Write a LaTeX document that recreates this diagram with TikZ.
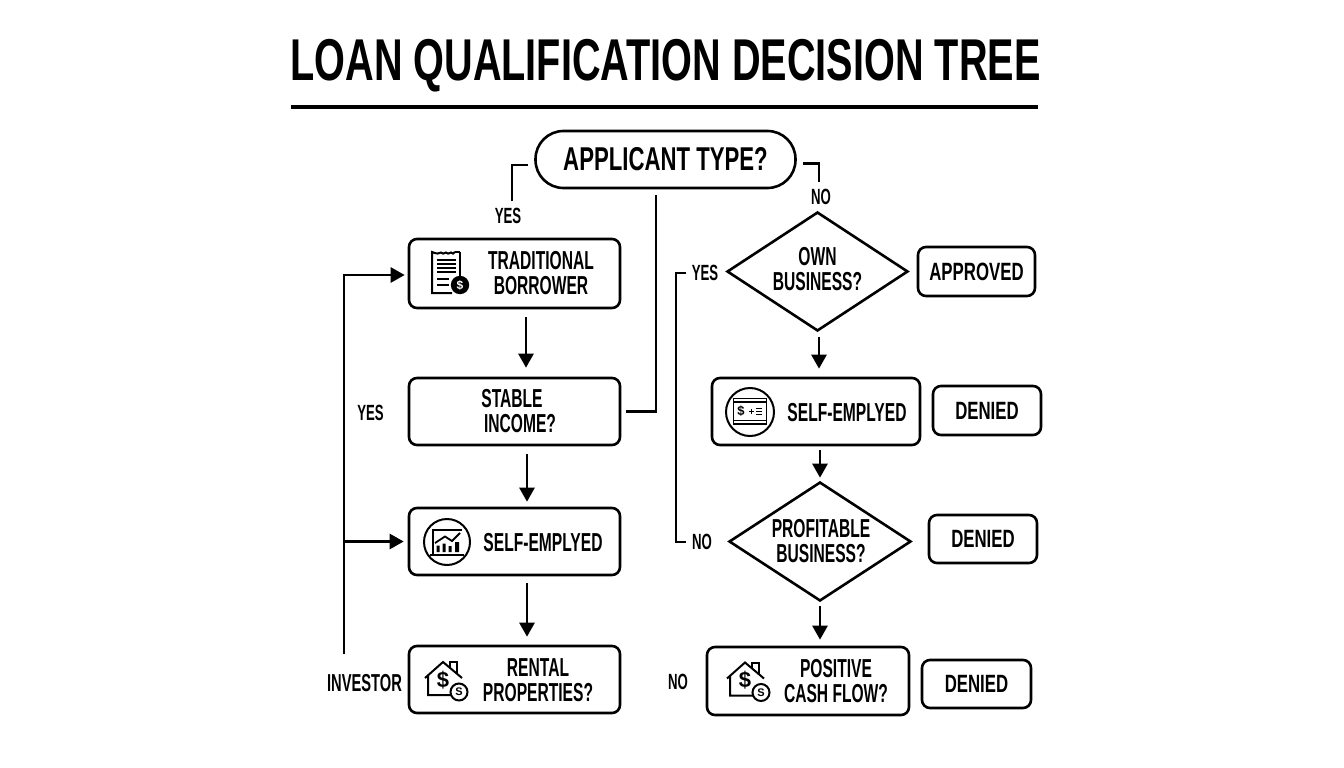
\documentclass[tikz,border=0pt]{standalone}
\usepackage{fontspec}
\usetikzlibrary{arrows.meta,shapes.geometric}
\newfontfamily\cond[FakeStretch=0.6]{Liberation Sans}
\newfontfamily\titlecond[FakeStretch=0.672]{Liberation Sans}
\newcommand{\lines}[3]{\hspace*{#1}\raisebox{-#2}[0pt][0pt]{\begin{tabular}{@{}c@{}}#3\end{tabular}}}
\tikzset{
  x=1pt,y=-1pt,
  lw/.style={line width=2.6pt},
  txt/.style={font=\cond\bfseries\fontsize{26}{23}\selectfont,text=black,inner sep=0pt},
  box/.style={txt,draw=black,lw,rounded corners=8pt,minimum width=#1,fill=white},
  box/.default=211pt,
  outcome/.style={box=#1,font=\titlecond\bfseries\fontsize{25}{25}\selectfont},
  dec/.style={txt,draw=black,lw,diamond,aspect=1.52,inner sep=0pt,fill=white},
  lab/.style={font=\cond\bfseries\fontsize{22}{22}\selectfont,text=black,inner sep=0pt},
  flow/.style={lw,-{Triangle[width=15pt,length=14pt]}},
  plain/.style={lw},
  house/.pic={
    \draw[line width=2pt] (7,6) -- (7,0) -- (14,0) -- (14,12);
    \draw[line width=2pt,line join=miter] (-18,16) -- (0,0) -- (19,16) (-15,14) -- (-15,33) -- (12,33);
    \node[inner sep=0pt,font=\fontspec{Liberation Sans}\bfseries\fontsize{22}{22}\selectfont] (-dollar) at (0,18) {\$};
    \draw[line width=2pt,fill=white] (16,30) circle[radius=8.5];
    \node[inner sep=0pt,font=\fontspec{Liberation Sans}\bfseries\fontsize{11}{11}\selectfont] (-coin) at (16,30) {S};
  }
}
\begin{document}
\begin{tikzpicture}
\useasboundingbox[fill=white] (0,0) rectangle (1344,768);

% title
\node[inner sep=0pt,font=\titlecond\bfseries\fontsize{59}{59}\selectfont] (title) at (665.5,66) {LOAN QUALIFICATION DECISION TREE};
\coordinate (ruleL) at (291,107);
\coordinate (ruleR) at (1038,107);
\draw[line width=4pt] (ruleL) -- (ruleR);

% left column
\node[txt,draw=black,lw,fill=white,rounded corners=28pt,minimum width=260pt,minimum height=57pt,font=\titlecond\bfseries\fontsize{33}{33}\selectfont] (app) at (665.5,159.5) {APPLICANT TYPE?};
\node[box,minimum height=69pt] (trad) at (514.5,273.5) {\lines{53pt}{9.5pt}{TRADITIONAL\\BORROWER}};
\node[box,minimum height=67pt] (stable) at (514.5,411.5) {\lines{3pt}{9.5pt}{\hspace*{-8pt}STABLE\\\hspace*{8pt}INCOME?}};
\node[box,minimum height=67pt] (selfL) at (514.5,541.5) {\lines{57pt}{11pt}{SELF-EMPLYED}};
\node[box,minimum height=67pt] (rental) at (514.5,679.5) {\lines{47pt}{10pt}{RENTAL\\PROPERTIES?}};

% right column
\node[dec,minimum width=181pt,minimum height=119pt] (own) at (817.5,271.5) {\lines{0pt}{7.5pt}{OWN\\BUSINESS?}};
\node[box=208pt,minimum height=67pt] (selfR) at (816,411.5) {\lines{62pt}{11pt}{SELF-EMPLYED}};
\node[dec,minimum width=182pt,minimum height=119pt] (prof) at (820,541.5) {\lines{2pt}{9.5pt}{PROFITABLE\\BUSINESS?}};
\node[box=202pt,minimum height=68pt] (pos) at (808,681) {\lines{56pt}{10pt}{POSITIVE\\CASH FLOW?}};

% outcomes
\node[outcome=117pt,minimum height=49pt] (appr) at (976.5,271.5) {APPROVED};
\node[outcome=108pt,minimum height=49pt] (den1) at (987,410.5) {DENIED};
\node[outcome=108pt,minimum height=48pt] (den2) at (983,539) {DENIED};
\node[outcome=109pt,minimum height=48pt] (den3) at (976.5,684) {DENIED};

% labels
\node[lab] (yesA) at (508,216) {YES};
\node[lab] (noA) at (821,197) {NO};
\node[lab] (yesR) at (705,273) {YES};
\node[lab] (yesL) at (370.5,413) {YES};
\node[lab,font=\cond\bfseries\fontsize{24.5}{24.5}\selectfont] (inv) at (364.5,683) {INVESTOR};
\node[lab] (noR) at (702,542) {NO};
\node[lab] (noP) at (678,682) {NO};

% helper coordinates
\coordinate (leftbar) at (344,654);
\coordinate (rightbar) at (676,400);

% connectors
\draw[plain] ([xshift=-6pt,yshift=-5.5pt]app.west) -| ([xshift=4pt,yshift=7pt]yesA.north);
\draw[plain] ([xshift=6pt,yshift=-4pt]app.east) -| ([xshift=-2pt,yshift=7pt]noA.north);
\draw[plain] ([xshift=-9.5pt,yshift=-6pt]app.south) |- ([xshift=5pt]stable.east);
\draw[flow] ([xshift=11.5pt,yshift=-8pt]trad.south) -- ([xshift=11.5pt,yshift=9pt]stable.north);
\draw[flow] ([xshift=12.5pt,yshift=-8pt]stable.south) -- ([xshift=12.5pt,yshift=5pt]selfL.north);
\draw[flow] ([xshift=12.5pt,yshift=-7pt]selfL.south) -- ([xshift=12.5pt,yshift=8pt]rental.north);
\draw[flow] (leftbar) |- ([xshift=-3pt,yshift=-1.5pt]trad.west);
\draw[flow] (leftbar |- selfL.west) -- ([xshift=-4pt]selfL.west);
\draw[plain] ([xshift=-6pt]yesR.west) -| (rightbar) |- ([xshift=-6pt]noR.west);
\draw[flow] ([xshift=1.5pt,yshift=-5pt]own.south) -- ([xshift=3pt,yshift=8pt]selfR.north);
\draw[flow] ([xshift=4pt,yshift=-4pt]selfR.south) -- ([yshift=3pt]prof.north);
\draw[flow] ([yshift=-4pt]prof.south) -- ([xshift=12pt,yshift=6pt]pos.north);

% receipt icon
\draw[line width=2pt] (455,252) .. controls (454,254) and (452,254) .. (451,252.5) .. controls (449,254) and (447,254) .. (446,252.5) .. controls (444,254) and (442,254) .. (441,252.5) .. controls (439,254) and (437,254) .. (432,252) -- (432,293) -- (452,293);
\draw[line width=2pt] (460,252) -- (455,252) (460,252) -- (460,278);
\draw[line width=1.4pt] (437,260) -- (456,260) (437,264) -- (456,264) (437,268) -- (456,268) (437,272) -- (456,272) (437,279) -- (449,279) (437,285) -- (449,285);
\fill[black] (460,285) circle[radius=9.2];
\node[inner sep=0pt,text=white,font=\fontspec{Liberation Sans}\bfseries\fontsize{12}{12}\selectfont] (receiptS) at (460,285) {\$};

% chart icon
\draw[line width=2pt] (447,542) circle[radius=23];
\draw[line width=1.8pt] (462,530) -- (433,530) -- (433,554) (430,555) -- (464,555);
\fill[black] (436.5,545.5) rectangle (439.5,552) (442.5,543.5) rectangle (445.5,552) (448.5,546) rectangle (451.5,552) (455,542) rectangle (459,552);
\draw[line width=1.8pt] (435,543) -- (445,536.5) -- (452,541) -- (460,533);

% note icon
\draw[line width=2pt] (750,412) circle[radius=24];
\draw[line width=1.8pt] (733.5,398.5) rectangle (766.5,424);
\draw[line width=1.5pt] (733.5,402) -- (766.5,402) (733.5,420.5) -- (766.5,420.5);
\node[inner sep=0pt,font=\fontspec{Liberation Sans}\bfseries\fontsize{13}{13}\selectfont] (noteS) at (741,411) {\$};
\draw[line width=1.2pt] (749,411.5) -- (754,411.5) (751.5,409) -- (751.5,414) (756,408.5) -- (762,408.5) (756,411.5) -- (762,411.5) (756,414.5) -- (762,414.5);

% houses
\pic (houseA) at (443,662) {house};
\pic (houseB) at (745,662.5) {house};
\end{tikzpicture}
\end{document}
